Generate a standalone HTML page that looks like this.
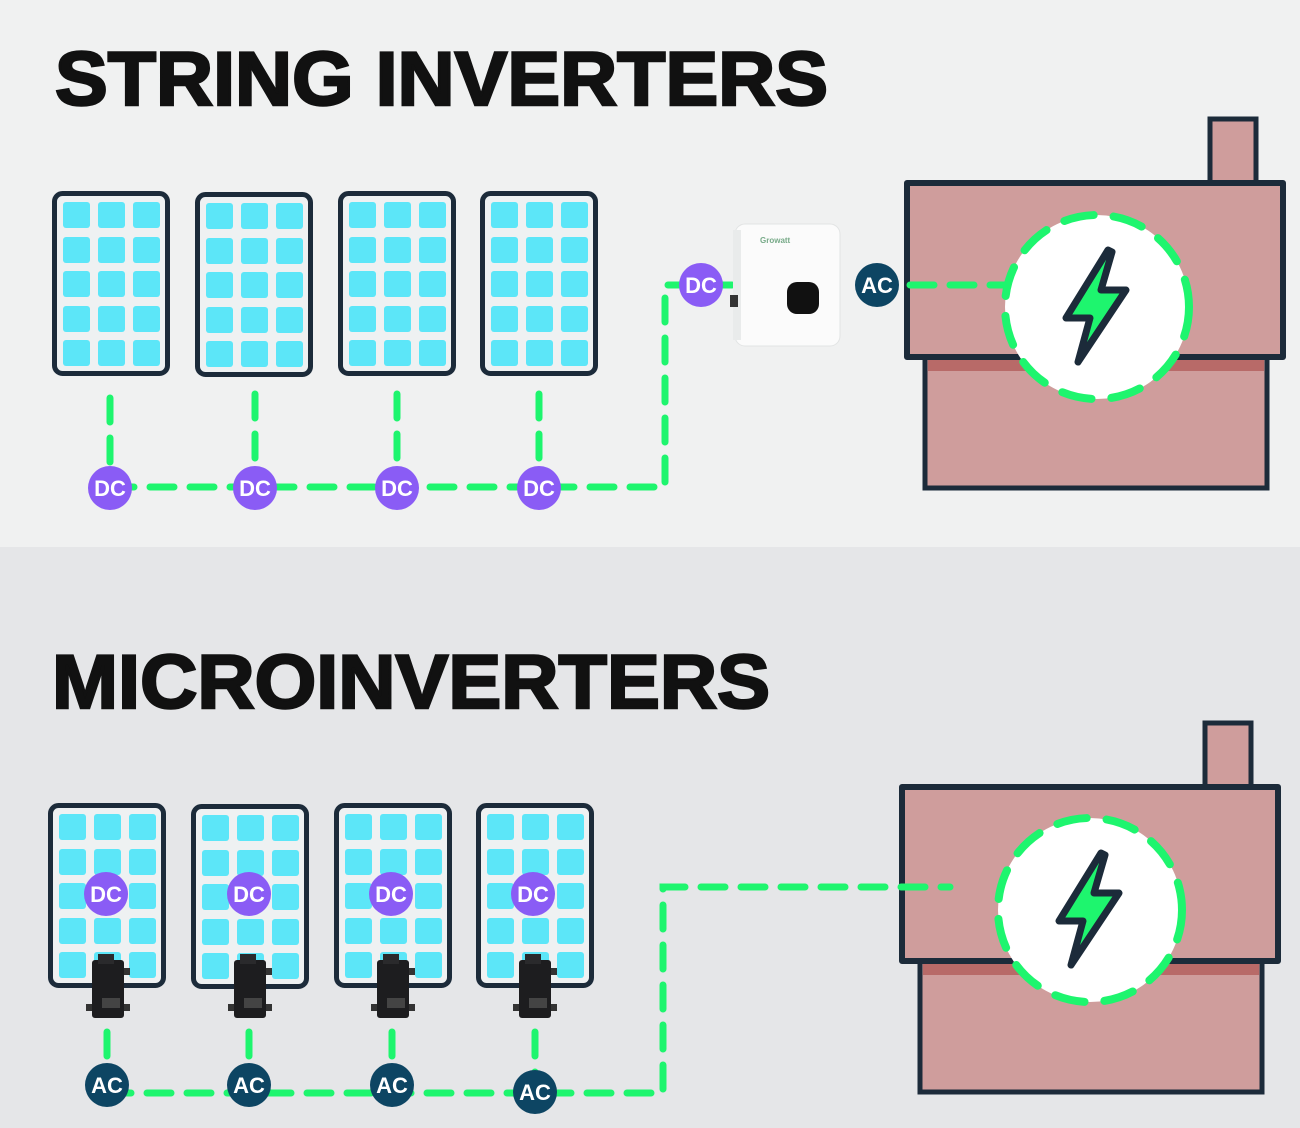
<!DOCTYPE html>
<html><head><meta charset="utf-8"><style>
html,body{margin:0;padding:0;width:1300px;height:1128px;overflow:hidden}
text{font-family:"Liberation Sans",sans-serif;font-weight:bold}
</style></head><body>
<svg width="1300" height="1128" viewBox="0 0 1300 1128" xmlns="http://www.w3.org/2000/svg">
<defs>
<g id="panel">
<rect x="2.5" y="2.5" width="113" height="180" rx="8" fill="#eef1f2" stroke="#1c2b3a" stroke-width="5"/>
<g fill="#5ce6f8">
<rect x="11" y="11" width="27" height="26" rx="3"/><rect x="46" y="11" width="27" height="26" rx="3"/><rect x="81" y="11" width="27" height="26" rx="3"/>
<rect x="11" y="46" width="27" height="26" rx="3"/><rect x="46" y="46" width="27" height="26" rx="3"/><rect x="81" y="46" width="27" height="26" rx="3"/>
<rect x="11" y="80" width="27" height="26" rx="3"/><rect x="46" y="80" width="27" height="26" rx="3"/><rect x="81" y="80" width="27" height="26" rx="3"/>
<rect x="11" y="115" width="27" height="26" rx="3"/><rect x="46" y="115" width="27" height="26" rx="3"/><rect x="81" y="115" width="27" height="26" rx="3"/>
<rect x="11" y="149" width="27" height="26" rx="3"/><rect x="46" y="149" width="27" height="26" rx="3"/><rect x="81" y="149" width="27" height="26" rx="3"/>
</g>
</g>
<g id="dc"><circle r="22" fill="#8a5cf5"/><text y="8" text-anchor="middle" font-size="22" fill="#fff">DC</text></g>
<g id="ac"><circle r="22" fill="#0d4563"/><text y="8" text-anchor="middle" font-size="22" fill="#fff">AC</text></g>
<g id="micro">
<rect x="-16" y="0" width="32" height="58" rx="3" fill="#1d1d1f"/>
<rect x="-10" y="-6" width="16" height="10" fill="#2a2a2c"/>
<rect x="16" y="8" width="6" height="7" fill="#333"/><rect x="-22" y="44" width="6" height="7" fill="#333"/><rect x="16" y="44" width="6" height="7" fill="#333"/>
<rect x="-6" y="38" width="18" height="10" fill="#444"/>
</g>
<g id="house">
<rect x="303" y="-64" width="46" height="66" fill="#cf9d9c" stroke="#1c2b3a" stroke-width="5"/>
<rect x="18" y="174" width="342" height="131" fill="#cf9d9c" stroke="#1c2b3a" stroke-width="5"/>
<rect x="21" y="176" width="336" height="12" fill="#b86a68"/>
<rect x="0" y="0" width="376" height="174" fill="#cf9d9c" stroke="#1c2b3a" stroke-width="6" stroke-linejoin="round"/>
</g>
</defs>
<rect width="1300" height="547" fill="#f0f1f1"/>
<rect y="547" width="1300" height="581" fill="#e5e6e8"/>

<text x="55" y="105" font-size="76" fill="#111" stroke="#111" stroke-width="2.5" textLength="773" lengthAdjust="spacingAndGlyphs">STRING INVERTERS</text>
<text x="52" y="708" font-size="76" fill="#111" stroke="#111" stroke-width="2.5" textLength="718" lengthAdjust="spacingAndGlyphs">MICROINVERTERS</text>

<!-- TOP -->
<use href="#panel" x="52" y="191"/><use href="#panel" x="195" y="192"/><use href="#panel" x="338" y="191"/><use href="#panel" x="480" y="191"/>
<use href="#house" x="907" y="183"/>
<g stroke="#1ef56e" stroke-width="7" stroke-linecap="round" fill="none" stroke-dasharray="24 16">
<path d="M110 398V487M255 394V487M397 394V487M539 394V487"/>
<path d="M110 487H665V285H735"/>
<path d="M910 285H1005"/>
</g>
<circle cx="1097" cy="307" r="92" fill="#fff" stroke="#1ef56e" stroke-width="8" stroke-dasharray="30 20" stroke-linecap="round"/>
<path d="M1108 250 L1066 318 L1090 318 L1078 362 L1126 290 L1101 290 L1112 252 Z" fill="#1ef56e" stroke="#1c2b3a" stroke-width="7" stroke-linejoin="round"/>
<!-- inverter -->
<rect x="735" y="224" width="105" height="122" rx="10" fill="#fbfbfb" stroke="#e2e4e4"/>
<rect x="733" y="230" width="8" height="110" fill="#e9ebeb"/>
<rect x="730" y="295" width="8" height="12" fill="#333"/>
<rect x="787" y="282" width="32" height="32" rx="10" fill="#111"/>
<text x="760" y="243" font-size="8" fill="#7a8" font-weight="normal">Growatt</text>
<use href="#dc" x="110" y="488"/><use href="#dc" x="255" y="488"/><use href="#dc" x="397" y="488"/><use href="#dc" x="539" y="488"/>
<use href="#dc" x="701" y="285"/>
<use href="#ac" x="877" y="285"/>

<!-- BOTTOM -->
<use href="#panel" x="48" y="803"/><use href="#panel" x="191" y="804"/><use href="#panel" x="334" y="803"/><use href="#panel" x="476" y="803"/>
<use href="#house" x="902" y="787"/>
<g stroke="#1ef56e" stroke-width="7" stroke-linecap="round" fill="none" stroke-dasharray="24 16">
<path d="M107 1032V1085M249 1032V1085M392 1032V1085M535 1032V1092"/>
<path d="M107 1093H663V887H950"/>
</g>
<circle cx="1090" cy="910" r="92" fill="#fff" stroke="#1ef56e" stroke-width="8" stroke-dasharray="30 20" stroke-linecap="round"/>
<path d="M1101 853 L1059 921 L1083 921 L1071 965 L1119 893 L1094 893 L1105 855 Z" fill="#1ef56e" stroke="#1c2b3a" stroke-width="7" stroke-linejoin="round"/>
<use href="#micro" x="108" y="960"/><use href="#micro" x="250" y="960"/><use href="#micro" x="393" y="960"/><use href="#micro" x="535" y="960"/>
<use href="#dc" x="106" y="894"/><use href="#dc" x="249" y="894"/><use href="#dc" x="391" y="894"/><use href="#dc" x="533" y="894"/>
<use href="#ac" x="107" y="1085"/><use href="#ac" x="249" y="1085"/><use href="#ac" x="392" y="1085"/><use href="#ac" x="535" y="1092"/>
</svg>
</body></html>
